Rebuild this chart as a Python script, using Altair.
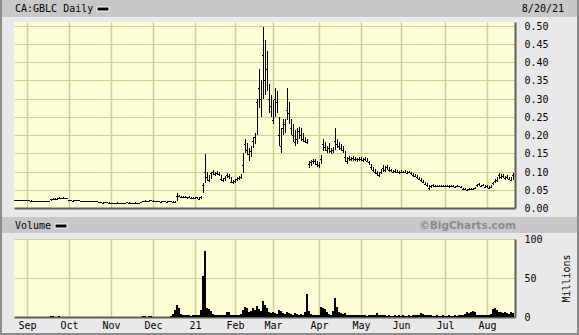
import altair as alt
import pandas as pd

# ---------------- data ----------------
# one value per trading day, 24 Aug 2020 .. 20 Aug 2021 (250 sessions)
close = [
    # Aug 2020
    0.022, 0.022, 0.022, 0.022, 0.021, 0.022,
    # Sep
    0.022, 0.022, 0.019, 0.020, 0.018, 0.019, 0.018, 0.018, 0.019, 0.018, 0.019,
    0.018, 0.024, 0.026, 0.025, 0.026, 0.028, 0.028, 0.028, 0.028, 0.027,
    # Oct
    0.021, 0.021, 0.020, 0.021, 0.021, 0.021, 0.019, 0.019, 0.018, 0.019, 0.019,
    0.018, 0.019, 0.018, 0.019, 0.016, 0.016, 0.015, 0.016, 0.016, 0.015,
    # Nov
    0.014, 0.013, 0.014, 0.015, 0.013, 0.014, 0.014, 0.013, 0.016, 0.014, 0.013,
    0.014, 0.015, 0.014, 0.014, 0.016, 0.019, 0.020, 0.018, 0.020, 0.021,
    # Dec
    0.020, 0.019, 0.018, 0.018, 0.017, 0.018, 0.018, 0.017, 0.018, 0.018, 0.017,
    0.017, 0.034, 0.032, 0.030, 0.031, 0.030, 0.029, 0.030, 0.028, 0.027,
    # Jan 2021
    0.027, 0.029, 0.026, 0.030, 0.063, 0.100, 0.085, 0.078, 0.095, 0.098, 0.092,
    0.097, 0.094, 0.080, 0.076, 0.082, 0.090, 0.088, 0.072, 0.070,
    # Feb
    0.075, 0.080, 0.083, 0.085, 0.118, 0.175, 0.160, 0.148, 0.155, 0.185, 0.195,
    0.290, 0.330, 0.300, 0.420, 0.350, 0.380, 0.300, 0.280,
    # Mar
    0.240, 0.300, 0.290, 0.200, 0.170, 0.220, 0.230, 0.270, 0.260, 0.220, 0.200,
    0.180, 0.190, 0.210, 0.200, 0.190, 0.185, 0.180, 0.120, 0.125, 0.130, 0.128, 0.120,
    # Apr
    0.118, 0.135, 0.175, 0.168, 0.160, 0.165, 0.155, 0.158, 0.185, 0.175, 0.170,
    0.165, 0.160, 0.140, 0.130, 0.138, 0.135, 0.138, 0.135, 0.133, 0.135,
    # May
    0.135, 0.132, 0.135, 0.130, 0.125, 0.112, 0.105, 0.100, 0.095, 0.090, 0.100,
    0.110, 0.105, 0.112, 0.105, 0.103, 0.100, 0.102, 0.100, 0.098,
    # Jun
    0.100, 0.098, 0.100, 0.097, 0.098, 0.095, 0.090, 0.088, 0.085, 0.080, 0.076,
    0.072, 0.066, 0.062, 0.055, 0.060, 0.062, 0.060, 0.060, 0.061, 0.060, 0.060,
    # Jul
    0.060, 0.060, 0.059, 0.060, 0.060, 0.058, 0.060, 0.059, 0.058, 0.053, 0.052,
    0.050, 0.052, 0.051, 0.053, 0.055, 0.062, 0.065, 0.060, 0.063, 0.058,
    # Aug
    0.060, 0.056, 0.058, 0.068, 0.075, 0.078, 0.090, 0.085, 0.088, 0.082, 0.085,
    0.080, 0.078, 0.090,
]
high = [
    0.023, 0.023, 0.023, 0.023, 0.022, 0.023,
    0.023, 0.022, 0.021, 0.020, 0.019, 0.020, 0.019, 0.019, 0.020, 0.019, 0.020,
    0.020, 0.025, 0.027, 0.027, 0.027, 0.029, 0.028, 0.029, 0.028, 0.028,
    0.022, 0.021, 0.021, 0.021, 0.022, 0.021, 0.020, 0.019, 0.019, 0.020, 0.019,
    0.019, 0.020, 0.019, 0.019, 0.017, 0.017, 0.016, 0.017, 0.016, 0.016,
    0.015, 0.014, 0.015, 0.016, 0.014, 0.015, 0.015, 0.014, 0.017, 0.016, 0.014,
    0.015, 0.016, 0.015, 0.015, 0.017, 0.020, 0.021, 0.020, 0.021, 0.022,
    0.021, 0.020, 0.019, 0.019, 0.018, 0.019, 0.019, 0.018, 0.019, 0.019, 0.018,
    0.018, 0.040, 0.036, 0.033, 0.034, 0.032, 0.031, 0.032, 0.031, 0.030,
    0.030, 0.031, 0.029, 0.034, 0.068, 0.147, 0.100, 0.090, 0.100, 0.105, 0.100,
    0.102, 0.099, 0.090, 0.082, 0.088, 0.095, 0.093, 0.085, 0.076,
    0.079, 0.085, 0.088, 0.092, 0.150, 0.190, 0.178, 0.165, 0.170, 0.195, 0.205,
    0.300, 0.380, 0.350, 0.495, 0.460, 0.430, 0.340, 0.310,
    0.295, 0.330, 0.320, 0.250, 0.220, 0.245, 0.245, 0.328, 0.290, 0.245, 0.230,
    0.215, 0.220, 0.222, 0.220, 0.205, 0.195, 0.188, 0.130, 0.132, 0.135, 0.135, 0.128,
    0.125, 0.145, 0.190, 0.180, 0.170, 0.178, 0.165, 0.168, 0.218, 0.190, 0.182,
    0.175, 0.170, 0.155, 0.140, 0.142, 0.140, 0.142, 0.140, 0.138, 0.140,
    0.140, 0.138, 0.140, 0.136, 0.130, 0.122, 0.112, 0.108, 0.102, 0.098, 0.108,
    0.118, 0.115, 0.118, 0.112, 0.108, 0.105, 0.106, 0.104, 0.102,
    0.104, 0.102, 0.104, 0.101, 0.101, 0.099, 0.095, 0.092, 0.090, 0.086, 0.082,
    0.078, 0.072, 0.068, 0.062, 0.063, 0.065, 0.063, 0.062, 0.064, 0.062, 0.063,
    0.063, 0.062, 0.062, 0.062, 0.063, 0.061, 0.062, 0.061, 0.060, 0.056, 0.055,
    0.053, 0.054, 0.054, 0.056, 0.058, 0.066, 0.068, 0.064, 0.066, 0.062,
    0.063, 0.060, 0.062, 0.072, 0.080, 0.085, 0.095, 0.092, 0.092, 0.088, 0.090,
    0.086, 0.084, 0.095,
]
low = [
    0.021, 0.022, 0.021, 0.020, 0.020, 0.021,
    0.021, 0.020, 0.018, 0.018, 0.017, 0.018, 0.017, 0.017, 0.018, 0.017, 0.018,
    0.017, 0.019, 0.024, 0.024, 0.025, 0.026, 0.027, 0.027, 0.027, 0.026,
    0.020, 0.020, 0.019, 0.020, 0.020, 0.019, 0.018, 0.018, 0.017, 0.018, 0.018,
    0.017, 0.018, 0.017, 0.017, 0.015, 0.015, 0.014, 0.015, 0.015, 0.014,
    0.013, 0.012, 0.013, 0.014, 0.012, 0.013, 0.013, 0.012, 0.014, 0.013, 0.012,
    0.013, 0.014, 0.013, 0.013, 0.014, 0.016, 0.018, 0.017, 0.018, 0.019,
    0.019, 0.018, 0.017, 0.017, 0.016, 0.017, 0.017, 0.016, 0.017, 0.017, 0.016,
    0.016, 0.018, 0.029, 0.027, 0.028, 0.027, 0.026, 0.027, 0.025, 0.024,
    0.024, 0.025, 0.023, 0.025, 0.040, 0.068, 0.075, 0.070, 0.080, 0.090, 0.088,
    0.090, 0.088, 0.075, 0.070, 0.075, 0.082, 0.080, 0.068, 0.066,
    0.068, 0.074, 0.078, 0.080, 0.095, 0.150, 0.145, 0.130, 0.140, 0.165, 0.175,
    0.200, 0.275, 0.250, 0.300, 0.310, 0.320, 0.260, 0.250,
    0.230, 0.250, 0.260, 0.170, 0.150, 0.200, 0.205, 0.240, 0.230, 0.200, 0.180,
    0.170, 0.175, 0.190, 0.185, 0.180, 0.178, 0.175, 0.110, 0.115, 0.120, 0.118, 0.112,
    0.110, 0.120, 0.155, 0.155, 0.150, 0.152, 0.148, 0.150, 0.160, 0.165, 0.160,
    0.155, 0.150, 0.125, 0.122, 0.128, 0.128, 0.130, 0.128, 0.127, 0.128,
    0.128, 0.127, 0.130, 0.125, 0.118, 0.105, 0.098, 0.094, 0.088, 0.085, 0.092,
    0.100, 0.098, 0.104, 0.100, 0.098, 0.096, 0.097, 0.096, 0.094,
    0.096, 0.095, 0.096, 0.094, 0.095, 0.091, 0.086, 0.084, 0.080, 0.076, 0.072,
    0.068, 0.062, 0.058, 0.050, 0.056, 0.058, 0.057, 0.057, 0.058, 0.057, 0.057,
    0.057, 0.058, 0.056, 0.058, 0.057, 0.056, 0.058, 0.057, 0.055, 0.050, 0.048,
    0.046, 0.049, 0.048, 0.050, 0.052, 0.058, 0.061, 0.057, 0.059, 0.054,
    0.056, 0.053, 0.055, 0.062, 0.068, 0.072, 0.080, 0.080, 0.082, 0.078, 0.080,
    0.076, 0.074, 0.078,
]
volume_millions = [
    0.4, 0.3, 0.5, 0.3, 0.4, 0.3,
    0.3, 0.4, 0.5, 0.3, 0.4, 0.2, 0.3, 0.5, 0.4, 0.3, 0.2, 0.3, 0.8, 0.9, 0.6,
    0.5, 0.7, 0.4, 0.3, 0.5, 0.4,
    0.4, 0.3, 0.3, 0.2, 0.4, 0.3, 0.3, 0.2, 0.3, 0.4, 0.3, 0.2, 0.3, 0.3, 0.2,
    0.4, 0.3, 0.3, 0.2, 0.3, 0.4,
    0.3, 0.2, 0.3, 0.4, 0.3, 0.2, 0.3, 0.3, 0.5, 0.3, 0.2, 0.3, 0.4, 0.3, 0.3,
    0.4, 0.8, 0.9, 0.6, 0.7, 0.8,
    0.6, 0.5, 0.4, 0.4, 0.3, 0.4, 0.5, 0.4, 0.6, 1.5, 4.0, 9.0, 15.0, 12.0, 4.0,
    2.5, 2.0, 2.5, 2.0, 1.5, 2.0,
    2.0, 2.5, 3.0, 9.0, 52.0, 85.0, 12.0, 10.0, 8.0, 4.0, 3.0, 2.5, 3.0, 2.0,
    3.0, 2.5, 6.0, 7.0, 3.0, 2.5,
    3.0, 2.5, 3.0, 4.0, 9.0, 13.0, 11.0, 7.0, 8.0, 11.0, 9.0, 14.0, 10.0, 8.0,
    21.0, 15.0, 11.0, 7.0, 5.0,
    6.0, 5.0, 4.0, 9.0, 8.0, 5.0, 4.0, 6.0, 5.0, 4.0, 3.0, 5.0, 4.0, 3.0, 4.0,
    3.0, 6.0, 30.0, 8.0, 4.0, 3.0, 3.0, 2.5,
    3.0, 13.0, 12.0, 10.0, 6.0, 4.0, 3.0, 8.0, 24.0, 13.0, 6.0, 5.0, 4.0, 5.0,
    3.0, 3.0, 2.0, 2.5, 2.0, 2.0, 2.5,
    2.0, 2.5, 2.0, 1.5, 2.0, 2.5, 3.0, 2.0, 5.0, 3.0, 2.5, 2.0, 2.0, 1.5, 2.0,
    1.5, 1.5, 2.0, 1.5, 2.0,
    1.5, 2.0, 1.5, 1.5, 2.0, 1.5, 2.0, 2.5, 2.0, 3.0, 5.0, 4.0, 3.0, 2.5, 2.0,
    2.0, 1.5, 1.5, 2.0, 1.5, 1.5, 2.0,
    1.5, 1.5, 2.0, 1.5, 1.5, 2.0, 1.5, 2.0, 2.0, 3.0, 4.0, 6.0, 5.0, 7.0, 8.0,
    6.0, 3.0, 2.5, 3.0, 2.0, 2.5,
    3.0, 2.5, 4.0, 10.0, 12.0, 9.0, 6.0, 7.0, 5.0, 6.0, 5.0, 4.0, 6.0, 5.0,
]
month_labels = ["Sep", "Oct", "Nov", "Dec", "21", "Feb", "Mar", "Apr", "May", "Jun", "Jul", "Aug"]
month_start_session = [6, 27, 48, 69, 90, 110, 129, 152, 173, 193, 215, 236]
price_ticks = [0.00, 0.05, 0.10, 0.15, 0.20, 0.25, 0.30, 0.35, 0.40, 0.45, 0.50]
volume_ticks = [0, 50, 100]
title_text = "CA:GBLC Daily"
date_text = "8/20/21"
volume_text = "Volume"
credit_text = "\u00a9BigCharts.com"
volume_axis_title = "Millions"

# ---------------- table ----------------
n = len(close)
df = pd.DataFrame({
    "session": list(range(n)),
    "close": close,
    "high": high,
    "low": low,
    "vol": volume_millions,
})
df["x0"] = df["session"]
df["xc"] = df["session"] + 0.5
df["x1"] = df["session"] + 1
df["base"] = 0.0

grid_vals = [m + 0.5 for m in month_start_session]
label_expr = (
    "[" + ",".join("'%s'" % l for l in month_labels) + "]"
    + "[indexof([" + ",".join(str(v) for v in grid_vals) + "], datum.value)]"
)

# ---------------- style ----------------
W, PH, VH = 501, 186, 78
GRID = "#cfcf96"
FRAME = "#8c8c8c"
HEADER = "#c8c8c8"
BG = "#e9e9e9"
PLOT = "#fdfdd6"
AXISLINE = "#5c5c5c"
MONO = "DejaVu Sans Mono"

xscale = alt.Scale(domain=[0, 250.5], nice=False, zero=False, round=True)
pscale = alt.Scale(domain=[0, 0.51], nice=False, zero=True, round=True)
vscale = alt.Scale(domain=[0, 100], nice=False, round=True)


def x_axis(show_labels):
    return alt.Axis(
        values=grid_vals, grid=True, gridColor=GRID, gridWidth=1.5,
        ticks=False, tickSize=0, domain=True, domainColor=AXISLINE, domainWidth=2,
        labels=show_labels, labelExpr=label_expr, labelFont=MONO, labelFontSize=10,
        labelColor="black", labelPadding=3, labelFlush=False, labelOverlap=False,
        labelBound=False, title=None,
    )


p_axis = alt.Axis(
    orient="right", values=price_ticks, format=".2f", grid=True, gridColor=GRID,
    gridWidth=1, ticks=False, tickSize=0, domain=True, domainColor=AXISLINE,
    domainWidth=2, labelFont=MONO, labelFontSize=10, labelColor="black",
    labelPadding=9, labelFlush=False, labelOverlap=False, title=None,
)
v_axis = alt.Axis(
    orient="right", values=volume_ticks, format="d", grid=True, gridColor=GRID,
    gridWidth=1, ticks=False, tickSize=0, domain=True, domainColor=AXISLINE,
    domainWidth=2, labelFont=MONO, labelFontSize=10, labelColor="black",
    labelPadding=9, labelFlush=False, labelOverlap=False,
    title=volume_axis_title, titleFont=MONO, titleFontSize=10,
    titleFontWeight="normal", titleColor="black", titleAngle=270,
    titleX=51, titleY=39, titleAlign="center", titleBaseline="middle",
)

one = pd.DataFrame({"k": [0]})


def rect(x, x2, y, y2, color, **kw):
    return alt.Chart(one).mark_rect(color=color, **kw).encode(
        x=alt.value(x), x2=alt.value(x2), y=alt.value(y), y2=alt.value(y2))


def text(s, x, y, align="left", **kw):
    props = dict(align=align, baseline="middle", font=MONO, fontSize=10, color="black")
    props.update(kw)
    return alt.Chart(one).mark_text(**props).encode(
        x=alt.value(x), y=alt.value(y), text=alt.value(s))


# ---------------- price panel ----------------
hl = alt.Chart(df).mark_rule(color="black", strokeWidth=1, xOffset=0.5).encode(
    x=alt.X("xc:Q", scale=xscale, axis=x_axis(False)),
    y=alt.Y("low:Q", scale=pscale, axis=p_axis),
    y2="high:Q",
)
cl = alt.Chart(df).mark_rule(color="black", strokeWidth=1, yOffset=0.5).encode(
    x=alt.X("x0:Q", scale=xscale, axis=x_axis(False)),
    x2="x1:Q",
    y=alt.Y("close:Q", scale=pscale, axis=p_axis),
)

price_deco = [
    alt.Chart(one).mark_rect(fillOpacity=0, opacity=0).encode(
        x=alt.value(-14), x2=alt.value(565), y=alt.value(-22), y2=alt.value(313)),
    rect(-12, 563, -22, -5, HEADER),
    rect(-14, -12, -22, 313, FRAME),
    rect(563, 565, -22, 313, FRAME),
    rect(-14, 565, 311, 313, FRAME),
    text(title_text, 1, -13),
    rect(83, 95, -15, -11, "black", stroke="white", strokeWidth=1),
    text(date_text, 550, -13, align="right"),
]

price = alt.layer(hl, cl, *price_deco).properties(width=W, height=PH)

# ---------------- volume panel ----------------
bars = alt.Chart(df).mark_rect(color="black").encode(
    x=alt.X("x0:Q", scale=xscale, axis=x_axis(True)),
    x2="x1:Q",
    y=alt.Y("vol:Q", scale=vscale, axis=v_axis),
    y2="base:Q",
)
vol_deco = [
    rect(-12, 563, -22, -6, HEADER),
    text(volume_text, 1, -13),
    rect(41, 53, -15, -11, "black", stroke="white", strokeWidth=1),
    text(credit_text, 502, -13, align="right", font="DejaVu Sans",
         fontSize=10.5, fontWeight="bold", color="#8a8a8a"),
]
volume = alt.layer(bars, *vol_deco).properties(width=W, height=VH)

chart = (
    alt.vconcat(price, volume, spacing=31, bounds="flush", padding=0)
    .configure(background=BG)
    .configure_view(fill=PLOT, strokeWidth=0)
)

chart.save("out.html", embed_options={"renderer": "svg", "actions": False})
